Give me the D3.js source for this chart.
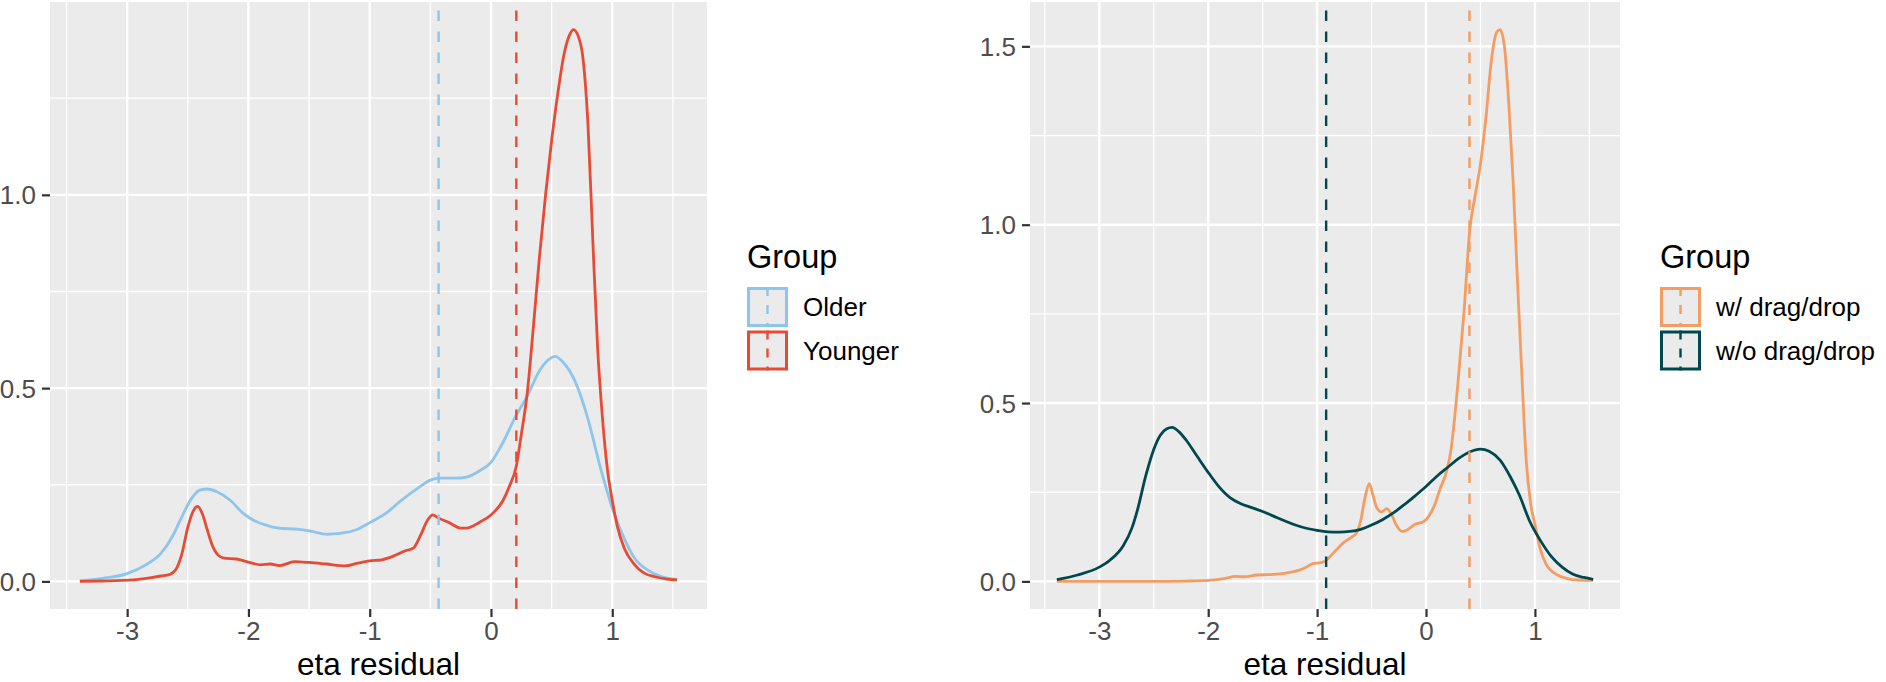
<!DOCTYPE html>
<html>
<head>
<meta charset="utf-8">
<script src="https://cdn.jsdelivr.net/npm/d3@7"></script>
<style>
  html, body { margin: 0; padding: 0; background: #fff; }
  svg { display: block; }
  text { font-family: "Liberation Sans", Arial, Helvetica, sans-serif; }
</style>
</head>
<body>
<svg id="chart" width="1886" height="682"></svg>
<script>
// ---------------- data ----------------
const xTicks = [-3, -2, -1, 0, 1];
const yTicksLeft = [0, 0.5, 1.0];
const yTicksRight = [0, 0.5, 1.0, 1.5];
const xTitle = "eta residual";
const legendTitle = "Group";

const groupsLeft = ["Older", "Younger"];
const groupsRight = ["w/ drag/drop", "w/o drag/drop"];
const colorsLeft = ["#8EC5EC", "#E64B35"];
const colorsRight = ["#F49D62", "#00484E"];

const meansLeft = [-0.432, 0.209];
const meansRight = [0.399, -0.917];

const olderX = [-3.39,-3.2,-3.0,-2.85,-2.72,-2.62,-2.56,-2.47,-2.40,-2.34,-2.26,-2.15,-2.05,-1.99,-1.85,-1.75,-1.6,-1.5,-1.35,-1.25,-1.1,-1.0,-0.85,-0.75,-0.6,-0.5,-0.43,-0.3,-0.2,-0.1,0.0,0.1,0.2,0.3,0.4,0.48,0.53,0.6,0.69,0.8,0.9,1.0,1.1,1.18,1.3,1.4,1.535];
const olderY = [0.002,0.008,0.02,0.042,0.073,0.12,0.16,0.214,0.236,0.239,0.232,0.21,0.178,0.164,0.145,0.138,0.135,0.131,0.122,0.124,0.135,0.152,0.18,0.207,0.242,0.262,0.267,0.267,0.27,0.285,0.308,0.36,0.425,0.48,0.545,0.575,0.582,0.565,0.52,0.42,0.297,0.19,0.11,0.062,0.028,0.013,0.005];

const youngerX = [-3.39,-3.2,-2.95,-2.8,-2.72,-2.65,-2.6,-2.55,-2.5,-2.45,-2.42,-2.38,-2.34,-2.3,-2.25,-2.2,-2.1,-2.0,-1.9,-1.82,-1.74,-1.62,-1.5,-1.36,-1.2,-1.1,-1.0,-0.9,-0.8,-0.7,-0.64,-0.58,-0.52,-0.48,-0.44,-0.35,-0.25,-0.2,-0.1,0.0,0.1,0.15,0.21,0.25,0.3,0.35,0.4,0.45,0.5,0.55,0.6,0.65,0.68,0.72,0.76,0.8,0.84,0.88,0.92,0.96,1.0,1.04,1.1,1.18,1.26,1.35,1.45,1.535];
const youngerY = [0.0,0.001,0.004,0.01,0.014,0.018,0.03,0.07,0.14,0.185,0.194,0.175,0.134,0.095,0.068,0.06,0.058,0.05,0.043,0.045,0.041,0.051,0.049,0.045,0.04,0.047,0.053,0.056,0.066,0.08,0.086,0.12,0.16,0.172,0.165,0.153,0.138,0.138,0.152,0.172,0.21,0.245,0.3,0.38,0.49,0.66,0.84,1.0,1.14,1.26,1.36,1.415,1.4275,1.41,1.35,1.18,0.88,0.6,0.42,0.29,0.21,0.145,0.085,0.045,0.022,0.012,0.006,0.004];

const withX = [-3.39,-2.5,-2.2,-2.0,-1.85,-1.75,-1.67,-1.55,-1.45,-1.34,-1.25,-1.17,-1.1,-1.04,-0.98,-0.93,-0.85,-0.76,-0.68,-0.64,-0.6,-0.56,-0.52,-0.49,-0.45,-0.41,-0.36,-0.32,-0.28,-0.22,-0.17,-0.1,-0.02,0.03,0.08,0.13,0.19,0.23,0.26,0.3,0.35,0.4,0.45,0.5,0.55,0.6,0.65,0.68,0.72,0.76,0.8,0.84,0.88,0.92,0.96,1.0,1.05,1.1,1.2,1.3,1.4,1.535];
const withY = [0.0,0.0,0.001,0.003,0.008,0.014,0.013,0.018,0.019,0.021,0.025,0.031,0.04,0.05,0.052,0.056,0.08,0.108,0.125,0.135,0.17,0.235,0.274,0.245,0.205,0.195,0.204,0.19,0.162,0.14,0.145,0.16,0.168,0.185,0.215,0.26,0.31,0.37,0.45,0.58,0.76,0.98,1.08,1.17,1.3,1.46,1.54,1.547,1.5,1.34,1.12,0.84,0.58,0.34,0.22,0.16,0.09,0.05,0.019,0.008,0.004,0.003];

const withoutX = [-3.39,-3.2,-3.0,-2.9,-2.78,-2.7,-2.65,-2.57,-2.5,-2.44,-2.38,-2.33,-2.27,-2.2,-2.1,-2.01,-1.9,-1.8,-1.7,-1.6,-1.5,-1.4,-1.3,-1.2,-1.1,-1.0,-0.9,-0.8,-0.7,-0.6,-0.5,-0.4,-0.3,-0.2,-0.1,0.0,0.1,0.2,0.3,0.4,0.5,0.58,0.68,0.78,0.86,0.95,1.05,1.15,1.25,1.35,1.45,1.535];
const withoutY = [0.005,0.018,0.04,0.06,0.1,0.15,0.2,0.3,0.37,0.41,0.428,0.432,0.42,0.395,0.35,0.31,0.265,0.235,0.218,0.207,0.196,0.183,0.17,0.158,0.149,0.143,0.139,0.138,0.14,0.146,0.158,0.173,0.192,0.215,0.24,0.266,0.295,0.32,0.345,0.363,0.371,0.365,0.34,0.29,0.24,0.17,0.115,0.07,0.04,0.02,0.011,0.006];

// ---------------- layout ----------------
const svg = d3.select("#chart");
const zip = (xs, ys) => xs.map((x, i) => ({x, y: ys[i]}));

const panels = [
  { box: {x0: 50, x1: 707, y0: 2, y1: 609},
    series: [zip(olderX, olderY), zip(youngerX, youngerY)],
    groups: groupsLeft, colors: colorsLeft, means: meansLeft, yTicks: yTicksLeft,
    legendX: 747 },
  { box: {x0: 1030, x1: 1620, y0: 2, y1: 609},
    series: [zip(withX, withY), zip(withoutX, withoutY)],
    groups: groupsRight, colors: colorsRight, means: meansRight, yTicks: yTicksRight,
    legendX: 1660 }
];

const fmtY = d3.format(".1f");
const fmtX = d => String(d);

panels.forEach(p => {
  const b = p.box;
  const all = p.series.flat();
  const [xmin, xmax] = d3.extent(all, d => d.x);
  const ymax = d3.max(all, d => d.y);
  const xpad = (xmax - xmin) * 0.05;
  const x = d3.scaleLinear().domain([xmin - xpad, xmax + xpad]).range([b.x0, b.x1]);
  const y = d3.scaleLinear().domain([-0.05 * ymax, 1.05 * ymax]).range([b.y1, b.y0]);

  const g = svg.append("g");
  g.append("rect").attr("x", b.x0).attr("y", b.y0)
    .attr("width", b.x1 - b.x0).attr("height", b.y1 - b.y0).attr("fill", "#EBEBEB");

  // minor grid
  const [dx0, dx1] = x.domain(), [dy0, dy1] = y.domain();
  const xMinor = [];
  for (let v = Math.ceil(dx0 * 2) / 2; v <= dx1; v += 0.5) if (Math.abs(v % 1) > 0.01) xMinor.push(v);
  const yMinor = [];
  for (let v = 0.25; v <= dy1; v += 0.5) yMinor.push(v);
  g.selectAll(".xminor").data(xMinor).join("line")
    .attr("x1", d => x(d)).attr("x2", d => x(d)).attr("y1", b.y0).attr("y2", b.y1)
    .attr("stroke", "#fff").attr("stroke-width", 1.3);
  g.selectAll(".yminor").data(yMinor).join("line")
    .attr("y1", d => y(d)).attr("y2", d => y(d)).attr("x1", b.x0).attr("x2", b.x1)
    .attr("stroke", "#fff").attr("stroke-width", 1.3);
  // major grid
  g.selectAll(".xmajor").data(xTicks).join("line")
    .attr("x1", d => x(d)).attr("x2", d => x(d)).attr("y1", b.y0).attr("y2", b.y1)
    .attr("stroke", "#fff").attr("stroke-width", 2.4);
  g.selectAll(".ymajor").data(p.yTicks).join("line")
    .attr("y1", d => y(d)).attr("y2", d => y(d)).attr("x1", b.x0).attr("x2", b.x1)
    .attr("stroke", "#fff").attr("stroke-width", 2.4);

  // density lines
  const line = d3.line().x(d => x(d.x)).y(d => y(d.y)).curve(d3.curveMonotoneX);
  p.series.forEach((s, i) => {
    g.append("path").datum(s).attr("d", line)
      .attr("fill", "none").attr("stroke", p.colors[i]).attr("stroke-width", 2.8)
      .attr("stroke-linejoin", "round");
  });
  // mean lines (drawn bottom to top)
  p.means.forEach((m, i) => {
    g.append("line").attr("x1", x(m)).attr("x2", x(m)).attr("y1", b.y1).attr("y2", b.y0)
      .attr("stroke", p.colors[i]).attr("stroke-width", 2.4).attr("stroke-dasharray", "10.5,10.5");
  });

  // axes
  const ax = g.append("g").attr("transform", `translate(0,${b.y1})`)
    .call(d3.axisBottom(x).tickValues(xTicks).tickFormat(fmtX).tickSize(8).tickPadding(5));
  const ay = g.append("g").attr("transform", `translate(${b.x0},0)`)
    .call(d3.axisLeft(y).tickValues(p.yTicks).tickFormat(fmtY).tickSize(8).tickPadding(6));
  [ax, ay].forEach(a => {
    a.select(".domain").remove();
    a.selectAll(".tick line").attr("stroke", "#333333").attr("stroke-width", 2.2);
    a.selectAll(".tick text").attr("fill", "#4D4D4D").style("font-size", "26px");
  });
  ax.selectAll(".tick text").attr("dy", "0.71em");
  ay.selectAll(".tick text").attr("dy", "0.35em");

  g.append("text").attr("x", (b.x0 + b.x1) / 2).attr("y", 675)
    .attr("text-anchor", "middle").attr("fill", "#000").style("font-size", "31.5px")
    .text(xTitle);

  // legend
  const lg = svg.append("g").attr("transform", `translate(${p.legendX},0)`);
  lg.append("text").attr("x", 0).attr("y", 268).attr("fill", "#000")
    .style("font-size", "32.5px").text(legendTitle);
  p.groups.forEach((name, i) => {
    const ky = 287 + i * 43.5;
    lg.append("rect").attr("x", 1.5).attr("y", ky + 1.5).attr("width", 38).attr("height", 37)
      .attr("fill", "#EBEBEB").attr("stroke", p.colors[i]).attr("stroke-width", 3);
    lg.append("line").attr("x1", 20.5).attr("x2", 20.5).attr("y1", ky).attr("y2", ky + 40)
      .attr("stroke", p.colors[i]).attr("stroke-width", 2.4).attr("stroke-dasharray", "9,9");
    lg.append("text").attr("x", 56).attr("y", ky + 20).attr("dy", "0.35em")
      .attr("fill", "#000").style("font-size", "26px").text(name);
  });
});
</script>
</body>
</html>
